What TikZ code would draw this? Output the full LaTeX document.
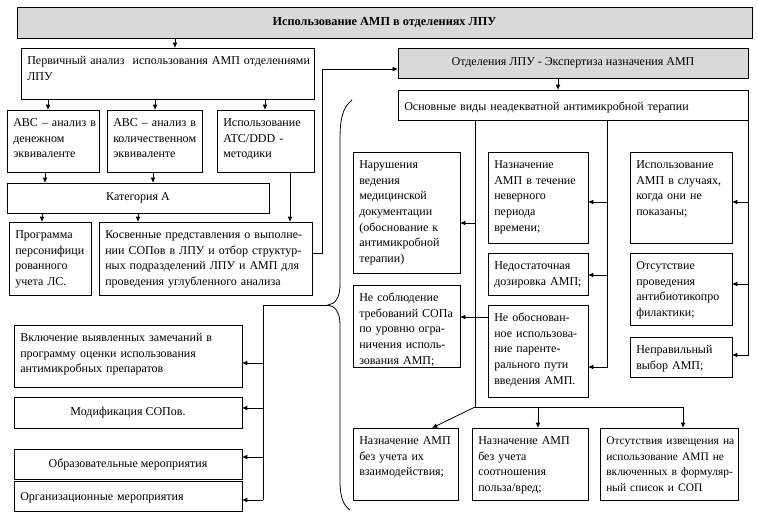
\documentclass[tikz,border=0pt]{standalone}
\usepackage{fontspec}
\setmainfont{Liberation Serif}
\usetikzlibrary{arrows.meta}
\tikzset{
 box/.style={draw, line width=0.6pt, inner sep=0pt, outer sep=0pt},
 txt/.style={inner sep=0pt, align=left, text height=7pt, anchor=north west},
 arr/.style={-{Latex[length=4pt,width=3.6pt]}, line width=0.6pt},
 ln/.style={line width=0.6pt},
 shaded/.style={fill=gray!30},
}
\newcommand\tbox[7][5.4]{%
 \pgfmathsetlengthmacro\myBW{(#5-#3)*0.75pt}%
 \pgfmathsetlengthmacro\myBH{(#6-#4)*0.75pt}%
 \pgfmathsetlengthmacro\myTW{(#5-#3)*0.75pt+6pt}%
 \node[box,minimum width=\myBW,minimum height=\myBH,anchor=north west] (#2) at (#3,#4) {};
 \node[txt,text width=\myTW] (#2-t) at ([xshift=4.5pt,yshift=-#1pt]#2.north west) {#7};
}
\newcommand\cbox[7][]{%
 \pgfmathsetlengthmacro\myBW{(#5-#3)*0.75pt}%
 \pgfmathsetlengthmacro\myBH{(#6-#4)*0.75pt}%
 \node[box,minimum width=\myBW,minimum height=\myBH,align=center,#1] (#2) at ({(#3+#5)/2},{(#4+#6)/2}) {#7};
}
\begin{document}
\begin{tikzpicture}[x=0.75pt,y=-0.75pt,font=\fontsize{9}{11.7}\selectfont]
\useasboundingbox (0,0) rectangle (758,530);
% left part
\cbox[shaded,font=\fontsize{9.2}{11.7}\selectfont\bfseries]{title}{17}{7}{752}{38}{Использование АМП в отделениях ЛПУ}
\tbox{perv}{21}{48}{314}{99}{Первичный анализ\ \ использования АМП отделениями\\ЛПУ}
\tbox{abc1}{7}{110}{99}{172}{ABC – анализ в\\денежном\\эквиваленте}
\tbox{abc2}{107}{110}{202}{172}{ABC – анализ в\\количественном\\эквиваленте}
\tbox{atc}{217}{110}{314}{172}{Использование\\ATC/DDD -\\методики}
\cbox{kat}{7}{183}{269}{213}{Категория А}
\tbox{prog}{9}{222}{91}{295}{Программа\\персонифици\\рованного\\учета ЛС.}
\tbox{kosv}{99}{222}{312}{295}{Косвенные представления о выполне-\\нии СОПов в ЛПУ и отбор структур-\\ных подразделений ЛПУ и АМП для\\проведения углубленного анализа}
\tbox{vkl}{14}{325}{242}{387}{Включение выявленных замечаний в\\программу оценки использования\\антимикробных препаратов}
\cbox{mod}{14}{397}{242}{428}{Модификация СОПов.}
\cbox{obr}{14}{449}{242}{479}{Образовательные мероприятия}
\tbox[7.6]{org}{14}{481}{242}{511}{Организационные мероприятия}
% right part
\cbox[shaded]{otd}{398}{48}{748}{78}{Отделения ЛПУ - Экспертиза назначения АМП}
\tbox[8.2]{osn}{398}{90}{748}{120}{Основные виды неадекватной антимикробной терапии}
\tbox{nar}{353}{152}{460}{273}{Нарушения\\ведения\\медицинской\\документации\\(обоснование к\\антимикробной\\терапии)}
\tbox{nesobl}{353}{285}{460}{367}{Не соблюдение\\требований СОПа\\по уровню огра-\\ничения исполь-\\зования АМП;}
\tbox{naztech}{488}{152}{588}{243}{Назначение\\АМП в течение\\неверного\\периода\\времени;}
\tbox{nedost}{488}{253}{588}{295}{Недостаточная\\дозировка АМП;}
\tbox{neobosn}{488}{305}{588}{397}{Не обоснован-\\ное использова-\\ние паренте-\\рального пути\\введения АМП.}
\tbox{ispsl}{630}{152}{732}{243}{Использование\\АМП в случаях,\\когда они не\\показаны;}
\tbox{otsut}{630}{253}{732}{325}{Отсутствие\\проведения\\антибиотикопро\\филактики;}
\tbox{neprav}{630}{337}{732}{377}{Неправильный\\выбор АМП;}
\tbox{b1}{353}{428}{458}{500}{Назначение АМП\\без учета их\\взаимодействия;}
\tbox{b2}{472}{428}{588}{500}{Назначение АМП\\без учета\\соотношения\\польза/вред;}
\tbox{b3}{600}{428}{738}{500}{\fontsize{8.6}{11.7}\selectfont Отсутствия извещения на\\использование АМП не\\включенных в формуляр-\\ный список и СОП}
% connectors left
\draw[arr] (title.south -| 175,0) -- (perv.north -| 175,0);
\draw[arr] (perv.south -| 48,0) -- (abc1.north -| 48,0);
\draw[arr] (perv.south -| 155,0) -- (abc2.north -| 155,0);
\draw[arr] (perv.south -| 265,0) -- (atc.north -| 265,0);
\draw[arr] (abc1.south -| 45,0) -- (kat.north -| 45,0);
\draw[arr] (abc2.south -| 153,0) -- (kat.north -| 153,0);
\draw[arr] (kat.south -| 42,0) -- (prog.north -| 42,0);
\draw[arr] (kat.south -| 138,0) -- (kosv.north -| 138,0);
\draw[arr] (atc.south -| 290,0) -- (kosv.north -| 290,0);
\draw[arr] (kosv.east |- 0,253) -- (322,253) -- (322,69) -- (otd.west |- 0,69);
\draw[arr] (otd.south -| 558,0) -- (osn.north -| 558,0);
% trunk at 475
\coordinate (j1) at (475,407);
\coordinate (j2) at (683,407);
\draw[ln] (osn.south -| j1) -- (j1) -- (j2);
\draw[arr] (j1) -- (b1.north -| 432,0);
\draw[arr] (538,407) -- (b2.north -| 538,0);
\draw[arr] (j2) -- (b3.north -| j2);
\draw[arr] (475,223) -- (nar.east |- 0,223);
\draw[arr] (neobosn.west |- 0,317) -- (nesobl.east |- 0,317);
% trunk at 607
\draw[arr] (osn.south -| 607,0) -- (607,367) -- (neobosn.east |- 0,367);
\draw[arr] (607,202) -- (naztech.east |- 0,202);
\draw[arr] (607,275) -- (nedost.east |- 0,275);
% trunk at 748
\draw[arr] (osn.south east) -- (748,355) -- (neprav.east |- 0,355);
\draw[arr] (748,202) -- (ispsl.east |- 0,202);
\draw[arr] (748,284) -- (otsut.east |- 0,284);
% brace and left trunk
\coordinate (bt) at (328,305);
\draw[ln] (352,100) .. controls (342,108) and (340,120) .. (340,140) -- (340,285) .. controls (340,298) and (335,304) .. (bt) .. controls (335,306) and (340,312) .. (340,325) -- (340,480) .. controls (340,497) and (343,505) .. (350,510);
\coordinate (lt) at (263,305);
\draw[ln] (bt) -- (lt) -- (263,500);
\draw[arr] (263,363) -- (vkl.east |- 0,363);
\draw[arr] (263,408) -- (mod.east |- 0,408);
\draw[arr] (263,457) -- (obr.east |- 0,457);
\draw[arr] (263,500) -- (org.east |- 0,500);
\end{tikzpicture}
\end{document}
